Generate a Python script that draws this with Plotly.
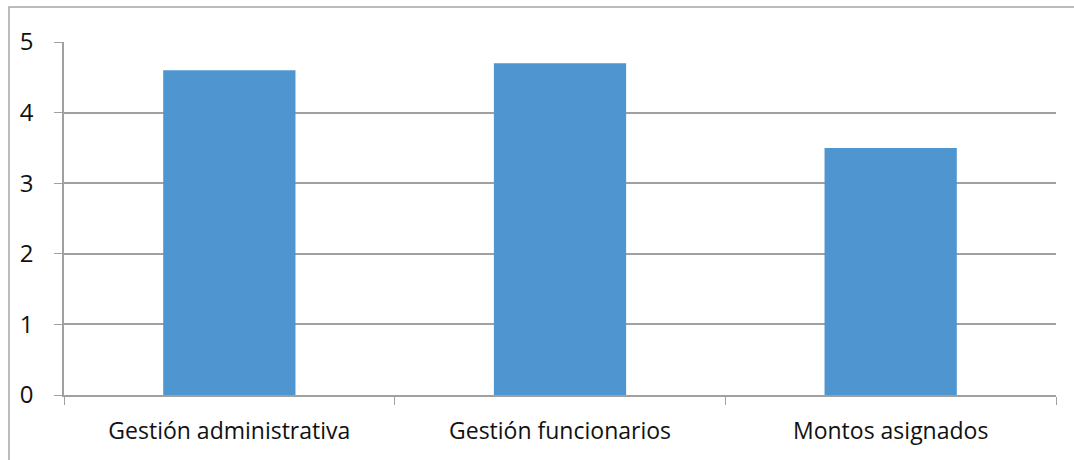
import plotly.graph_objects as go

categories = ["Gestión administrativa", "Gestión funcionarios", "Montos asignados"]
values = [4.6, 4.7, 3.5]
y_ticks = [0, 1, 2, 3, 4, 5]

W, H = 1074, 460
ML, MR, MT, MB = 64, 18, 42, 65

fig = go.Figure(
    go.Bar(x=categories, y=values, marker=dict(color="#4F96D0", line=dict(width=0)))
)

pw = W - ML - MR
ph = H - MT - MB

def px_to_paper_x(px):
    return (px - ML) / pw

def px_to_paper_y(py):
    return (H - MB - py) / ph

fig.update_layout(
    width=W,
    height=H,
    margin=dict(l=ML, r=MR, t=MT, b=MB),
    paper_bgcolor="white",
    plot_bgcolor="white",
    bargap=0.6,
    showlegend=False,
    font=dict(family="Open Sans", size=23, color="#111111"),
    shapes=[
        dict(
            type="rect", xref="paper", yref="paper",
            x0=px_to_paper_x(9), x1=px_to_paper_x(1090),
            y0=px_to_paper_y(480), y1=px_to_paper_y(7),
            line=dict(color="#a6a6a6", width=1.5), fillcolor="rgba(0,0,0,0)",
            layer="below",
        )
    ],
)

fig.update_xaxes(
    type="category",
    tickson="boundaries",
    ticks="outside",
    ticklen=8,
    tickcolor="#a0a0a0",
    showline=True,
    linecolor="#a0a0a0",
    linewidth=1.5,
    showgrid=False,
    tickfont=dict(size=23),
    ticklabelstandoff=15,
)

fig.update_yaxes(
    range=[0, 5],
    tickvals=y_ticks,
    ticks="outside",
    ticklen=8,
    tickcolor="#a0a0a0",
    showline=True,
    linecolor="#a0a0a0",
    linewidth=1.5,
    showgrid=True,
    gridcolor="#a0a0a0",
    gridwidth=1.5,
    zeroline=False,
    tickfont=dict(size=24),
    ticklabelstandoff=16,
)

fig.write_html("out.html")
